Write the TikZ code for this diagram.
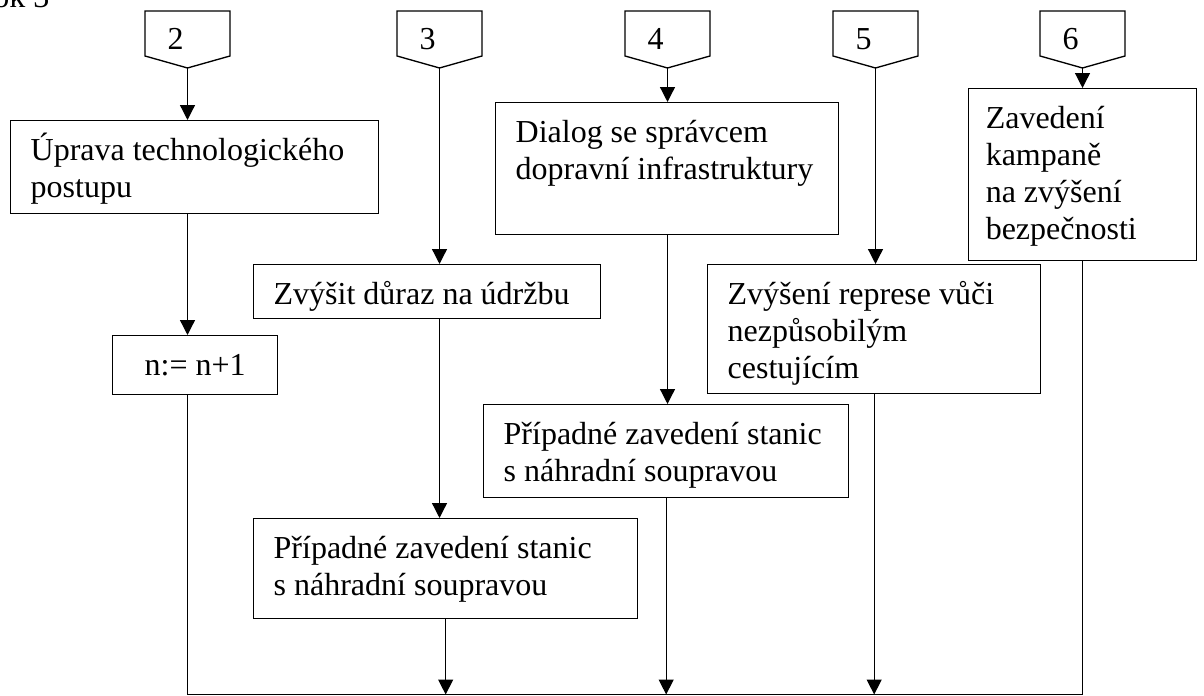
\documentclass[tikz,border=0pt]{standalone}
\usepackage{fontspec}
\setmainfont{Liberation Serif}
\usetikzlibrary{arrows.meta}

% box body: width (px), height (px), left padding, text; text starts at the top
\newcommand\boxbody[4]{%
  \parbox[c][\dimexpr0.375pt*#2\relax][t]{\dimexpr0.375pt*#1\relax}{%
    \raggedright\leftskip=#3\relax\rule{0pt}{15pt}#4}}
\newcommand\boxbodyc[3]{%
  \parbox[c][\dimexpr0.375pt*#2\relax][t]{\dimexpr0.375pt*#1\relax}{%
    \centering\rule{0pt}{15pt}#3}}

% off-page reference: name of the tip coordinate, left x, number
\newcommand\offpageref[3]{%
  \draw[offpage] (#2,11) -- ++(85,0) -- ++(0,45) -- ++(-42.5,12) coordinate (#1)
    -- ++(-42.5,-12) -- cycle;
  \node[anchor=base west, inner sep=0pt] (#1n) at (#2+22,50) {#3};}

\begin{document}
\begin{tikzpicture}[x=0.375pt,y=-0.375pt,
  every node/.style={font=\fontsize{12}{13.875}\selectfont},
  flow/.style={draw, line width=0.5pt, inner sep=0pt, anchor=north west},
  offpage/.style={draw, line width=0.5pt, line join=miter},
  link/.style={line width=0.5pt},
  arr/.style={link, -{Triangle[length=5.6pt,width=5.6pt]}}]

\useasboundingbox (0,0) rectangle (1204,696);

% page label, running off the top edge
\node[anchor=base east, inner sep=0pt] (lbl) at (50,8) {Blok 3};

% off-page connectors
\offpageref{p2}{145}{2}
\offpageref{p3}{397}{3}
\offpageref{p4}{625}{4}
\offpageref{p5}{833}{5}
\offpageref{p6}{1040}{6}

% process boxes
\node[flow] (upr) at (10,120)  {\boxbody{368}{93}{7.5pt}{Úprava technologického\\postupu}};
\node[flow] (inc) at (112,335) {\boxbodyc{165}{59}{n:= n+1}};
\node[flow] (dur) at (253,264) {\boxbody{347}{54}{7.5pt}{Zvýšit důraz na údržbu}};
\node[flow] (dia) at (495,102) {\boxbody{343}{132}{7.5pt}{Dialog se správcem\\dopravní infrastruktury}};
\node[flow] (st1) at (483,404) {\boxbody{365}{93}{7.5pt}{Případné zavedení stanic\\s náhradní soupravou}};
\node[flow] (st2) at (253,518) {\boxbody{384}{100}{7.5pt}{Případné zavedení stanic\\s náhradní soupravou}};
\node[flow] (rep) at (707,264) {\boxbody{333}{129}{7.5pt}{Zvýšení represe vůči\\nezpůsobilým\\cestujícím}};
\node[flow] (kam) at (968,88)  {\boxbody{228}{172}{6.4pt}{Zavedení\\kampaně\\na zvýšení\\bezpečnosti}};

% flow down each column
\draw[arr] (p2) -- (upr.north -| p2);
\draw[arr] (upr.south -| p2) -- (inc.north -| p2);
\draw[arr] (p3) -- (dur.north -| p3);
\draw[arr] (dur.south -| p3) -- (st2.north -| p3);
\draw[arr] (p4) -- (dia.north -| p4);
\draw[arr] (dia.south -| p4) -- (st1.north -| p4);
\draw[arr] (p5) -- (rep.north -| p5);
\draw[arr] (p6) -- (kam.north -| p6);

% collecting line along the bottom
\coordinate (busL) at (187.5,694.5);
\coordinate (busR) at (1082.5,694.5);
\draw[link] (inc.south -| busL) -- (busL) -- (busR) -- (kam.south -| busR);
\draw[arr] (st2.south) -- (st2.south |- busL);
\draw[arr] (st1.south) -- (st1.south |- busL);
\draw[arr] (rep.south) -- (rep.south |- busL);
\end{tikzpicture}
\end{document}
